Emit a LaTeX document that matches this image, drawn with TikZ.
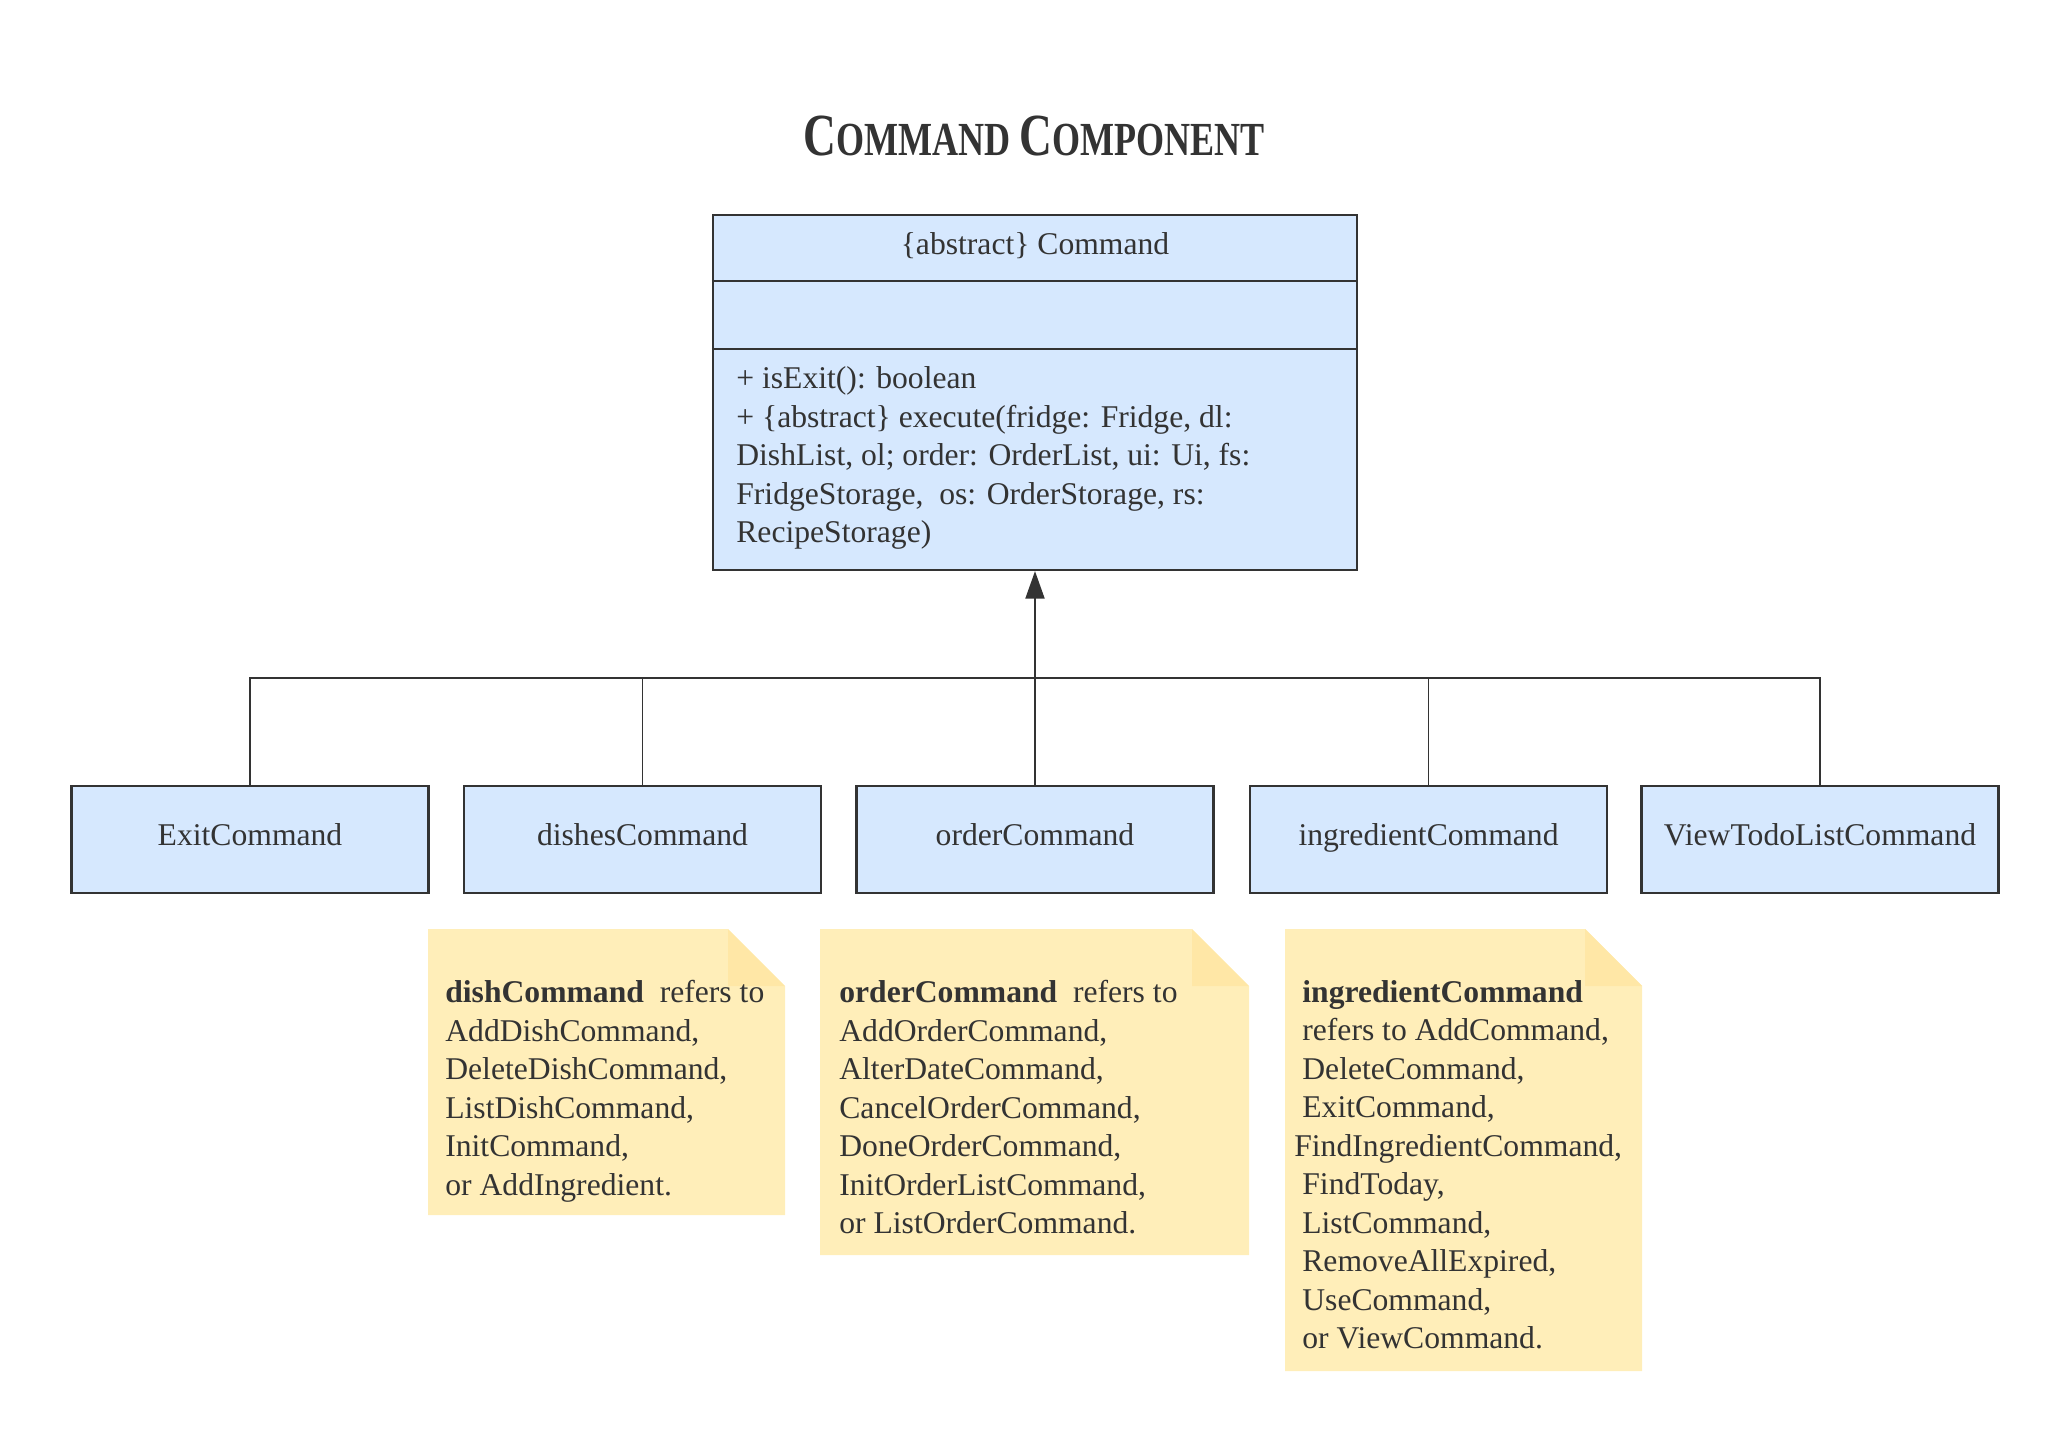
\documentclass[tikz,border=0pt]{standalone}
\usepackage{fontspec}
\setmainfont{Liberation Serif}
\usetikzlibrary{arrows.meta,calc}

\definecolor{textgray}{HTML}{333333}
\definecolor{classblue}{HTML}{D6E8FE}
\definecolor{noteyellow}{HTML}{FFEEB9}
\definecolor{notefold}{HTML}{FFE7A6}

\begin{document}
\begin{tikzpicture}[
        every node/.style={text=textgray, font=\fontsize{18}{21.9}\selectfont},
        classbox/.style={draw=textgray, fill=classblue, line width=1.2pt,
            minimum width=7.14cm, minimum height=2.14cm,
            text height=0.43cm, text depth=0.18cm},
        notetext/.style={anchor=north west, inner sep=0pt, align=left},
        link/.style={draw=textgray, line width=1.1pt},
    ]
    \useasboundingbox (0, 0) rectangle (41.42, -28.86);

    % タイトル
    \node (title) at (20.68, -2.72) {\scalebox{0.76}[1]{\bfseries
        \fontsize{34}{34}\selectfont C\fontsize{27}{27}\selectfont OMMAND
        \fontsize{34}{34}\selectfont C\fontsize{27}{27}\selectfont OMPONENT}};

    % 抽象クラス
    \node[classbox, minimum width=12.88cm, minimum height=7.10cm, anchor=north,
        text height=, text depth=] (cmd) at (20.70, -4.28) {};
    \draw[link] ($(cmd.north west)+(0, -1.34)$) -- ($(cmd.north east)+(0, -1.34)$);
    \draw[link] ($(cmd.north west)+(0, -2.70)$) -- ($(cmd.north east)+(0, -2.70)$);
    \node (cmdname) at ($(cmd.north)+(0, -0.64)$) {\{abstract\} Command};
    \node[notetext] (cmdops) at (14.72, -7.33) {+ isExit(): boolean\\
        + \{abstract\} execute(fridge: Fridge, dl:\\
        DishList, ol; order: OrderList, ui: Ui, fs:\\
        FridgeStorage,\ \ os: OrderStorage, rs:\\
        RecipeStorage)};

    % サブクラス
    \foreach \name / \x / \cname in {exit/5.00/ExitCommand, dishes/12.85/dishesCommand,
            order/20.70/orderCommand, ingredient/28.57/ingredientCommand,
            view/36.40/ViewTodoListCommand} {
        \node[classbox] (\name) at (\x, -16.79) {\cname};
    }

    % 継承の線
    \coordinate (bus) at (20.70, -13.56);
    \draw[link] (exit.north) |- (bus) -| (view.north);
    \draw[link] (ingredient.north) |- (bus);
    \draw[draw=textgray, line width=0.5pt] (dishes.north) |- (bus);
    \draw[link, -{Triangle[width=0.38cm, length=0.55cm]}] (order.north) -- (cmd.south);

    % ノート (折れ角つき)
    \foreach \xa / \xb / \yb in {8.56/15.70/-24.30, 16.40/24.98/-25.10, 25.70/32.84/-27.42} {
        \fill[noteyellow] (\xa, -18.58) -- (\xb-1.14, -18.58) -- (\xb, -19.72)
            -- (\xb, \yb) -- (\xa, \yb) -- cycle;
        \fill[notefold] (\xb-1.14, -18.58) -- (\xb-1.14, -19.72) -- (\xb, -19.72) -- cycle;
    }

    % ノートの文
    \node[notetext] (dishtext) at (8.90, -19.60) {\textbf{dishCommand}\ \ refers to\\
        AddDishCommand,\\DeleteDishCommand,\\ListDishCommand,\\InitCommand,\\
        or AddIngredient.};
    \node[notetext] (ordertext) at (16.78, -19.60) {\textbf{orderCommand}\ \ refers to\\
        AddOrderCommand,\\AlterDateCommand,\\CancelOrderCommand,\\DoneOrderCommand,\\
        InitOrderListCommand,\\or ListOrderCommand.};
    \node[notetext] (ingrtext) at (25.88, -19.60) {\hspace*{0.16cm}\textbf{ingredientCommand}\\
        \hspace*{0.16cm}refers to AddCommand,\\\hspace*{0.16cm}DeleteCommand,\\
        \hspace*{0.16cm}ExitCommand,\\FindIngredientCommand,\\\hspace*{0.16cm}FindToday,\\
        \hspace*{0.16cm}ListCommand,\\\hspace*{0.16cm}RemoveAllExpired,\\
        \hspace*{0.16cm}UseCommand,\\\hspace*{0.16cm}or ViewCommand.};

\end{tikzpicture}
\end{document}
